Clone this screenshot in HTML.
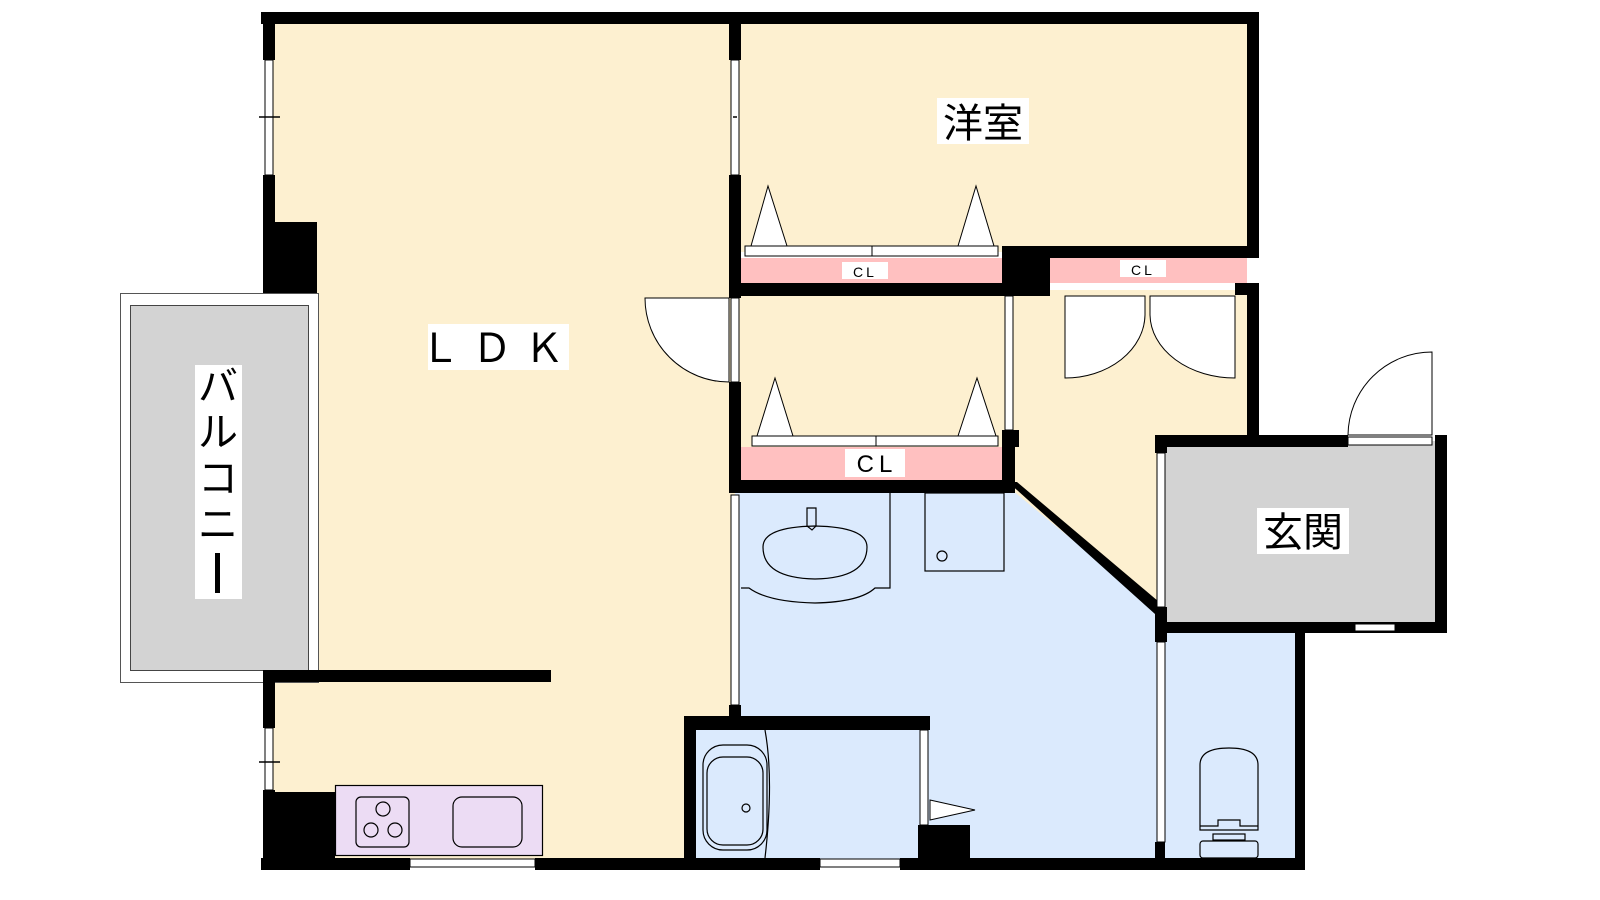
<!DOCTYPE html>
<html><head><meta charset="utf-8"><style>body{margin:0;background:#fff}svg{display:block}text{font-family:"Liberation Sans","Noto Sans CJK JP",sans-serif}</style></head><body>
<svg width="1600" height="900" viewBox="0 0 1600 900" xmlns="http://www.w3.org/2000/svg">
<rect x="269" y="18" width="466" height="846" fill="#fdf0d0"/>
<rect x="735" y="18" width="518" height="234" fill="#fdf0d0"/>
<rect x="735" y="290" width="520" height="200" fill="#fdf0d0"/>
<rect x="1008" y="290" width="247" height="330" fill="#fdf0d0"/>
<polygon points="735,490 1012,490 1160,612 1160,864 735,864" fill="#dbeafd"/>
<rect x="1160" y="628" width="140" height="236" fill="#dbeafd"/>
<rect x="690" y="725" width="240" height="139" fill="#dbeafd"/>
<rect x="120.5" y="293.5" width="198" height="389" fill="#fff" stroke="#555"/>
<rect x="130.5" y="305.5" width="178" height="365" fill="#d3d3d3" stroke="#444"/>
<rect x="1160" y="441" width="281" height="186" fill="#d3d3d3"/>
<g fill="#000">
<rect x="261" y="12" width="998" height="12"/>
<rect x="263" y="12" width="12" height="48"/>
<rect x="263" y="175" width="12" height="118"/>
<rect x="275" y="222" width="42" height="71"/>
<rect x="1247" y="12" width="12" height="246"/>
<rect x="1247" y="283" width="12" height="152"/>
<rect x="729" y="12" width="12" height="48"/>
<rect x="729" y="175" width="12" height="123"/>
<rect x="729" y="382" width="12" height="111"/>
<rect x="729" y="283" width="281" height="13"/>
<rect x="1002" y="246" width="48" height="50"/>
<rect x="1002" y="246" width="257" height="12"/>
<rect x="1235" y="283" width="24" height="12"/>
<rect x="1002" y="430" width="17" height="17"/>
<rect x="1002" y="440" width="13" height="45"/>
<rect x="729" y="480" width="286" height="13"/>
<polygon points="1008,482 1017,482 1165,607 1165,622 1155,622 1155,614"/>
<rect x="1155" y="435" width="193" height="12"/>
<rect x="1435" y="435" width="12" height="198"/>
<rect x="1155" y="622" width="292" height="11"/>
<rect x="1155" y="435" width="12" height="18"/>
<rect x="1155" y="607" width="12" height="35"/>
<rect x="1295" y="622" width="10" height="248"/>
<rect x="1155" y="842" width="10" height="28"/>
<rect x="261" y="858" width="149" height="12"/>
<rect x="535" y="858" width="285" height="12"/>
<rect x="900" y="858" width="405" height="12"/>
<rect x="263" y="670" width="288" height="12"/>
<rect x="263" y="670" width="12" height="58"/>
<rect x="263" y="790" width="12" height="80"/>
<rect x="263" y="792" width="72" height="70"/>
<rect x="684" y="716" width="246" height="14"/>
<rect x="684" y="716" width="12" height="148"/>
<rect x="918" y="825" width="52" height="38"/>
<rect x="729" y="705" width="12" height="15"/>
</g>
<g fill="#fff" stroke="#000" stroke-width="1">
<rect x="265" y="60" width="8" height="115"/>
<rect x="265" y="728" width="8" height="62"/>
<rect x="731" y="60" width="8" height="115"/>
<rect x="731" y="298" width="8" height="84"/>
<rect x="731" y="495" width="8" height="210"/>
<rect x="1005" y="296" width="8" height="134"/>
<rect x="1157" y="453" width="8" height="154"/>
<rect x="1157" y="642" width="8" height="200"/>
<rect x="920" y="730" width="8" height="95"/>
<rect x="410" y="859" width="125" height="8"/>
<rect x="820" y="859" width="80" height="8"/>
<rect x="1355" y="624" width="40" height="7"/>
<rect x="1348" y="437" width="84" height="8"/>
</g>
<g stroke="#000" stroke-width="1.5"><line x1="259" y1="117" x2="280" y2="117"/><line x1="259" y1="762" x2="280" y2="762"/><line x1="733" y1="117" x2="737" y2="117"/></g>
<rect x="741" y="258" width="261" height="25" fill="#ffc0c0"/>
<rect x="1050" y="258" width="197" height="25" fill="#ffc0c0"/>
<rect x="741" y="447" width="261" height="33" fill="#ffc0c0"/>
<g fill="#fff" stroke="#000" stroke-width="1">
<rect x="745" y="246" width="253" height="10"/><line x1="872" y1="246" x2="872" y2="256"/>
<rect x="752" y="436" width="246" height="10"/><line x1="876" y1="436" x2="876" y2="446"/>
<polygon points="751,246 768,186 787,246"/>
<polygon points="958,246 976,186 994,246"/>
<polygon points="757,436 775,378 793,436"/>
<polygon points="958,436 977,378 996,436"/>
<path d="M645,298 L729,298 L729,382 A84,84 0 0 1 645,298 Z"/>
<path d="M1065,296 L1145,296 L1145,315 A80,64 0 0 1 1065,378 Z"/>
<path d="M1235,296 L1150,296 L1150,315 A85,64 0 0 0 1235,378 Z"/>
<path d="M1348,435 A84,84 0 0 1 1432,352 L1432,435 Z"/>
<polygon points="930,800 975,810 930,820"/>
</g>
<g fill="none" stroke="#000" stroke-width="1.2">
<rect x="335.5" y="785.5" width="207" height="70" fill="#ecdcf4"/>
<rect x="356" y="797" width="53" height="50" rx="5"/>
<rect x="453" y="797" width="69" height="50" rx="9"/>
<circle cx="383" cy="809" r="7"/><circle cx="371" cy="830" r="7"/><circle cx="395" cy="830" r="7"/>
<path d="M741,588 L749,588 Q768,602 815,603 Q860,602 875,588 L890,588 L890,493"/>
<path d="M763,547 Q763,527 815,526 Q867,527 867,547 Q867,578 815,579 Q763,578 763,547 Z"/>
<path d="M807,526 L807,508 L816,508 L816,526 L812,530 Z"/>
<rect x="925" y="493" width="79" height="78"/>
<circle cx="942" cy="556" r="5"/>
<rect x="703" y="745" width="64" height="105" rx="20"/>
<rect x="707" y="757" width="56" height="88" rx="16"/>
<path d="M765,730 Q774,780 765,858"/>
<circle cx="746" cy="808" r="4"/>
<path d="M1200,830 L1200,765 Q1200,748 1229,748 Q1258,748 1258,765 L1258,830 Z"/>
<path d="M1200,826 L1218,826 L1218,820 L1240,820 L1240,826 L1258,826"/>
<rect x="1213" y="834" width="32" height="6"/>
<rect x="1200" y="841" width="58" height="17" rx="3"/>
</g>
<g fill="#fff">
<rect x="937" y="98" width="92" height="46"/>
<rect x="428" y="324" width="141" height="46"/>
<rect x="195" y="365" width="47" height="234"/>
<rect x="1257" y="508" width="92" height="46"/>
<rect x="842" y="262" width="46" height="17"/>
<rect x="1120" y="260" width="46" height="17"/>
<rect x="845" y="449" width="60" height="28"/>
</g>
<g fill="#000">
<text x="983" y="137" font-size="40" text-anchor="middle">洋室</text>
<text x="498" y="362" font-size="40" text-anchor="middle" letter-spacing="12">ＬＤＫ</text>
<text x="1303" y="546" font-size="40" text-anchor="middle">玄関</text>
<text x="865" y="277" font-size="14" text-anchor="middle" letter-spacing="3">CL</text>
<text x="1143" y="275" font-size="14" text-anchor="middle" letter-spacing="3">CL</text>
<text x="877" y="472" font-size="24" text-anchor="middle" letter-spacing="5">CL</text>
<text x="218" y="400" font-size="40" text-anchor="middle">バ</text>
<text x="218" y="446" font-size="40" text-anchor="middle">ル</text>
<text x="218" y="492" font-size="40" text-anchor="middle">コ</text>
<text x="218" y="538" font-size="40" text-anchor="middle">ニ</text>
<rect x="215" y="553" width="5" height="40"/>
</g>
</svg>
</body></html>
